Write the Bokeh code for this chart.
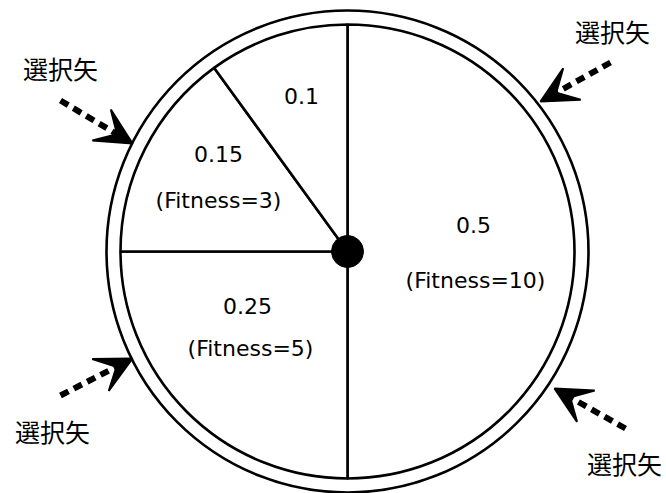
from bokeh.plotting import figure
from bokeh.models import Range1d, Arrow, VeeHead
from bokeh.core.properties import value
from bokeh.embed import file_html
from bokeh.resources import INLINE

# ---- data ----
fractions = [0.5, 0.25, 0.15, 0.1]
frac_labels = ["0.5", "0.25", "0.15", "0.1"]
fit_labels = ["(Fitness=10)", "(Fitness=5)", "(Fitness=3)", ""]
pointer_label = "選択矢"

# ---- layout (page pixel coords) ----
W, H = 666, 493
def X(px): return px
def Y(py): return H - py

CX, CY = X(347), Y(251)
R_IN, R_OUT, R_HUB = 227, 241, 16
frac_pos = [(473, 224), (247, 305), (218, 153), (301, 95)]
fit_pos = [(475, 280), (250, 348), (218, 200), (0, 0)]
ptr_text_pos = [(60, 67), (612, 30), (52, 430), (624, 462)]
arrows = [((60, 100), (132, 143)), ((610, 62), (540, 101)),
          ((60, 395), (132, 358)), ((625, 428), (554, 388))]

p = figure(width=W, height=H, x_range=Range1d(0, W), y_range=Range1d(0, H),
           output_backend="svg", toolbar_location=None, min_border=0)
p.axis.visible = False
p.grid.visible = False
p.outline_line_color = None
p.background_fill_color = "white"

# wedges
starts, ends = [], []
cum = 0.0
for f in fractions:
    starts.append(90 - 360 * cum)
    cum += f
    ends.append(90 - 360 * cum)
p.wedge(x=[CX] * len(fractions), y=[CY] * len(fractions), radius=R_IN,
        start_angle=starts, end_angle=ends, start_angle_units="deg", end_angle_units="deg",
        direction="clock", fill_color="white", line_color="black", line_width=2.6)
p.circle(x=[CX], y=[CY], radius=R_OUT, fill_color=None, line_color="black", line_width=2.6)
p.circle(x=[CX], y=[CY], radius=R_HUB, fill_color="black", line_color="black")

font = value("DejaVu Sans")
p.text(x=[X(a) for a, b in frac_pos], y=[Y(b) for a, b in frac_pos], text=frac_labels,
       text_font=font, text_font_size="22px", text_align="center", text_baseline="middle",
       text_color="black")
p.text(x=[X(a) for a, b in fit_pos[:3]], y=[Y(b) for a, b in fit_pos[:3]], text=fit_labels[:3],
       text_font=font, text_font_size="22px", text_align="center", text_baseline="middle",
       text_color="black")
p.text(x=[X(a) for a, b in ptr_text_pos], y=[Y(b) for a, b in ptr_text_pos],
       text=[pointer_label] * 4, text_font=value("Noto Sans CJK JP"), text_font_size="25px",
       text_align="center", text_baseline="middle", text_color="black")

for (s, e) in arrows:
    p.add_layout(Arrow(x_start=X(s[0]), y_start=Y(s[1]), x_end=X(e[0]), y_end=Y(e[1]),
                       line_width=6, line_dash="9 6", line_color="black",
                       end=VeeHead(size=36, fill_color="black", line_color="black", line_width=2)))

open("out.html", "w").write(file_html(p, INLINE))
